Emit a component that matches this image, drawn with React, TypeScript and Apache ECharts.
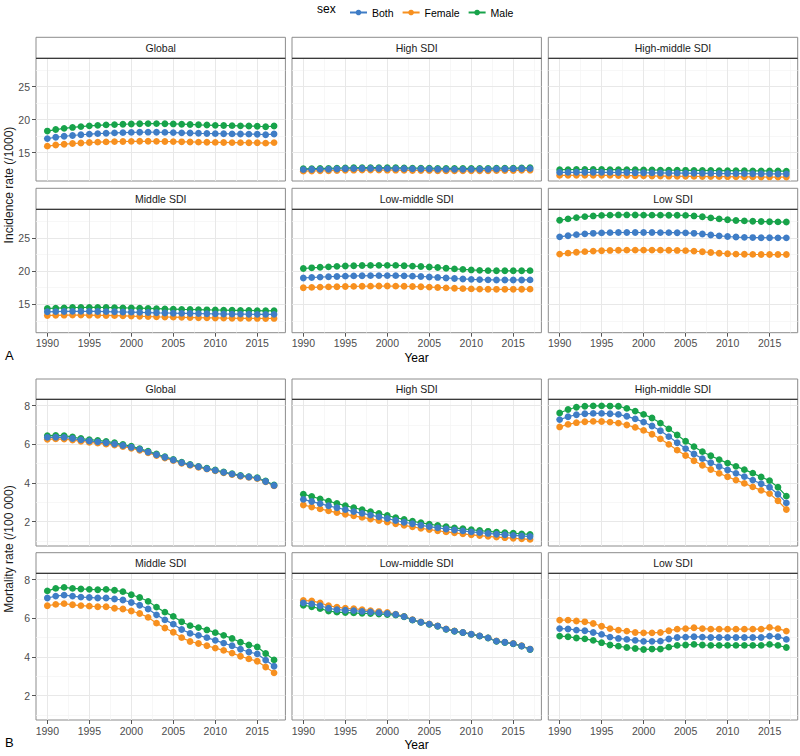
import React, { useEffect, useRef } from "react";
import * as echarts from "echarts";

const years = [1990, 1991, 1992, 1993, 1994, 1995, 1996, 1997, 1998, 1999, 2000, 2001, 2002, 2003, 2004, 2005, 2006, 2007, 2008, 2009, 2010, 2011, 2012, 2013, 2014, 2015, 2016, 2017];
const regions = ["Global", "High SDI", "High-middle SDI", "Middle SDI", "Low-middle SDI", "Low SDI"];
const sexes = ["Both", "Female", "Male"];

// Incidence rate (/1000)
const incGlobalMale = [18.27, 18.5, 18.68, 18.82, 18.95, 19.06, 19.14, 19.2, 19.25, 19.3, 19.34, 19.38, 19.4, 19.4, 19.38, 19.35, 19.31, 19.27, 19.22, 19.18, 19.14, 19.11, 19.09, 19.06, 19.03, 19.0, 18.92, 19.03];
const incGlobalBoth = [17.13, 17.33, 17.48, 17.6, 17.71, 17.8, 17.88, 17.94, 17.99, 18.03, 18.07, 18.09, 18.1, 18.09, 18.07, 18.04, 18.0, 17.97, 17.93, 17.9, 17.88, 17.86, 17.84, 17.82, 17.8, 17.79, 17.72, 17.82];
const incGlobalFemale = [15.98, 16.15, 16.28, 16.38, 16.46, 16.53, 16.59, 16.63, 16.67, 16.69, 16.71, 16.72, 16.72, 16.71, 16.69, 16.67, 16.64, 16.62, 16.59, 16.57, 16.55, 16.54, 16.52, 16.51, 16.5, 16.49, 16.44, 16.52];

const incHighMale = [12.55, 12.58, 12.6, 12.62, 12.65, 12.68, 12.7, 12.72, 12.72, 12.72, 12.7, 12.7, 12.68, 12.66, 12.65, 12.64, 12.62, 12.6, 12.6, 12.6, 12.6, 12.62, 12.62, 12.64, 12.65, 12.66, 12.68, 12.7];
const incHighBoth = [12.42, 12.45, 12.47, 12.49, 12.52, 12.55, 12.57, 12.59, 12.59, 12.59, 12.57, 12.57, 12.55, 12.53, 12.52, 12.51, 12.49, 12.47, 12.47, 12.47, 12.47, 12.49, 12.49, 12.51, 12.52, 12.53, 12.55, 12.57];
const incHighFemale = [12.19, 12.22, 12.24, 12.26, 12.29, 12.32, 12.34, 12.36, 12.36, 12.36, 12.34, 12.34, 12.32, 12.3, 12.29, 12.28, 12.26, 12.24, 12.24, 12.24, 12.24, 12.26, 12.26, 12.28, 12.29, 12.3, 12.32, 12.34];

const incHMMale = [12.42, 12.43, 12.44, 12.44, 12.44, 12.44, 12.43, 12.42, 12.41, 12.4, 12.38, 12.37, 12.35, 12.34, 12.33, 12.32, 12.31, 12.3, 12.29, 12.28, 12.27, 12.26, 12.25, 12.24, 12.23, 12.22, 12.21, 12.2];
const incHMBoth = [12.0, 12.01, 12.02, 12.02, 12.02, 12.01, 12.0, 11.99, 11.98, 11.96, 11.95, 11.93, 11.92, 11.9, 11.89, 11.88, 11.87, 11.86, 11.85, 11.84, 11.83, 11.82, 11.81, 11.8, 11.79, 11.78, 11.77, 11.77];
const incHMFemale = [11.55, 11.56, 11.57, 11.57, 11.57, 11.56, 11.55, 11.54, 11.52, 11.5, 11.48, 11.46, 11.45, 11.43, 11.42, 11.41, 11.4, 11.38, 11.37, 11.36, 11.35, 11.34, 11.33, 11.32, 11.31, 11.3, 11.3, 11.3];

const incMidMale = [14.35, 14.4, 14.45, 14.5, 14.5, 14.52, 14.52, 14.5, 14.48, 14.45, 14.42, 14.4, 14.36, 14.32, 14.28, 14.25, 14.22, 14.2, 14.18, 14.15, 14.12, 14.1, 14.08, 14.06, 14.05, 14.03, 14.0, 14.02];
const incMidBoth = [13.85, 13.88, 13.9, 13.92, 13.92, 13.92, 13.9, 13.88, 13.85, 13.82, 13.8, 13.77, 13.74, 13.7, 13.67, 13.64, 13.62, 13.6, 13.58, 13.56, 13.54, 13.52, 13.5, 13.5, 13.48, 13.47, 13.46, 13.47];
const incMidFemale = [13.3, 13.32, 13.34, 13.35, 13.35, 13.34, 13.32, 13.3, 13.27, 13.24, 13.2, 13.17, 13.14, 13.1, 13.07, 13.04, 13.01, 12.98, 12.96, 12.94, 12.92, 12.9, 12.88, 12.87, 12.86, 12.85, 12.84, 12.85];

const incLMMale = [20.38, 20.48, 20.56, 20.63, 20.7, 20.75, 20.79, 20.82, 20.84, 20.85, 20.85, 20.84, 20.8, 20.74, 20.68, 20.6, 20.52, 20.42, 20.32, 20.24, 20.16, 20.1, 20.06, 20.04, 20.03, 20.03, 20.04, 20.05];
const incLMBoth = [18.95, 19.02, 19.08, 19.13, 19.18, 19.22, 19.26, 19.28, 19.3, 19.31, 19.31, 19.3, 19.27, 19.22, 19.17, 19.1, 19.03, 18.95, 18.87, 18.8, 18.74, 18.7, 18.67, 18.65, 18.64, 18.64, 18.65, 18.66];
const incLMFemale = [17.48, 17.53, 17.57, 17.6, 17.63, 17.66, 17.68, 17.7, 17.72, 17.73, 17.73, 17.72, 17.7, 17.66, 17.62, 17.57, 17.52, 17.46, 17.4, 17.34, 17.3, 17.27, 17.25, 17.24, 17.24, 17.24, 17.25, 17.26];

const incLowMale = [27.65, 27.85, 28.05, 28.2, 28.3, 28.38, 28.42, 28.45, 28.45, 28.44, 28.43, 28.42, 28.42, 28.41, 28.4, 28.38, 28.3, 28.18, 28.0, 27.85, 27.72, 27.62, 27.55, 27.5, 27.46, 27.43, 27.4, 27.38];
const incLowBoth = [25.15, 25.32, 25.48, 25.6, 25.68, 25.74, 25.78, 25.8, 25.8, 25.8, 25.8, 25.8, 25.79, 25.78, 25.77, 25.75, 25.68, 25.58, 25.42, 25.3, 25.2, 25.12, 25.07, 25.04, 25.02, 25.01, 25.0, 25.0];
const incLowFemale = [22.55, 22.7, 22.82, 22.92, 23.0, 23.06, 23.1, 23.12, 23.14, 23.15, 23.15, 23.15, 23.14, 23.12, 23.1, 23.07, 23.0, 22.9, 22.78, 22.68, 22.6, 22.55, 22.52, 22.5, 22.49, 22.48, 22.48, 22.48];

// Mortality rate (/100 000)
const morGlobalMale = [6.45, 6.46, 6.45, 6.38, 6.3, 6.24, 6.2, 6.15, 6.08, 5.99, 5.9, 5.78, 5.64, 5.5, 5.36, 5.22, 5.07, 4.96, 4.86, 4.76, 4.67, 4.57, 4.48, 4.39, 4.33, 4.27, 4.1, 3.9];
const morGlobalBoth = [6.36, 6.37, 6.36, 6.3, 6.23, 6.17, 6.13, 6.08, 6.02, 5.94, 5.85, 5.74, 5.6, 5.46, 5.33, 5.19, 5.05, 4.94, 4.84, 4.74, 4.65, 4.55, 4.46, 4.37, 4.31, 4.25, 4.08, 3.87];
const morGlobalFemale = [6.26, 6.28, 6.27, 6.22, 6.16, 6.1, 6.06, 6.01, 5.96, 5.88, 5.8, 5.69, 5.56, 5.42, 5.29, 5.16, 5.02, 4.91, 4.81, 4.72, 4.63, 4.53, 4.44, 4.35, 4.29, 4.23, 4.06, 3.85];

const morHighMale = [3.42, 3.3, 3.18, 3.06, 2.94, 2.83, 2.72, 2.62, 2.52, 2.42, 2.32, 2.21, 2.11, 2.02, 1.94, 1.87, 1.8, 1.74, 1.68, 1.63, 1.58, 1.54, 1.5, 1.46, 1.43, 1.4, 1.37, 1.34];
const morHighBoth = [3.15, 3.04, 2.93, 2.82, 2.72, 2.62, 2.52, 2.43, 2.34, 2.25, 2.16, 2.06, 1.97, 1.89, 1.81, 1.74, 1.68, 1.62, 1.57, 1.52, 1.47, 1.43, 1.39, 1.35, 1.32, 1.29, 1.26, 1.23];
const morHighFemale = [2.86, 2.76, 2.66, 2.56, 2.47, 2.38, 2.3, 2.22, 2.14, 2.06, 1.98, 1.89, 1.81, 1.73, 1.66, 1.59, 1.53, 1.47, 1.42, 1.37, 1.32, 1.28, 1.24, 1.2, 1.17, 1.14, 1.11, 1.08];

const morHMMale = [7.62, 7.8, 7.92, 7.97, 7.99, 7.99, 7.98, 7.97, 7.86, 7.72, 7.55, 7.36, 7.1, 6.8, 6.48, 6.16, 5.88, 5.62, 5.41, 5.21, 5.03, 4.86, 4.69, 4.51, 4.31, 4.12, 3.78, 3.32];
const morHMBoth = [7.28, 7.43, 7.53, 7.58, 7.6, 7.6, 7.58, 7.55, 7.45, 7.32, 7.15, 6.95, 6.7, 6.4, 6.08, 5.78, 5.5, 5.26, 5.05, 4.85, 4.67, 4.5, 4.33, 4.15, 3.96, 3.78, 3.42, 2.97];
const morHMFemale = [6.9, 7.03, 7.12, 7.17, 7.19, 7.18, 7.15, 7.1, 7.0, 6.88, 6.72, 6.52, 6.28, 6.0, 5.7, 5.42, 5.15, 4.92, 4.7, 4.5, 4.32, 4.15, 3.98, 3.8, 3.62, 3.45, 3.08, 2.63];

const morMidMale = [7.42, 7.55, 7.6, 7.55, 7.52, 7.5, 7.48, 7.5, 7.45, 7.38, 7.22, 7.08, 6.88, 6.58, 6.32, 6.1, 5.82, 5.62, 5.52, 5.4, 5.26, 5.12, 4.96, 4.76, 4.62, 4.52, 4.18, 3.85];
const morMidBoth = [7.05, 7.15, 7.2, 7.15, 7.1, 7.08, 7.05, 7.05, 7.0, 6.95, 6.82, 6.68, 6.48, 6.18, 5.92, 5.7, 5.42, 5.22, 5.12, 5.0, 4.86, 4.72, 4.58, 4.4, 4.26, 4.16, 3.84, 3.52];
const morMidFemale = [6.65, 6.72, 6.76, 6.7, 6.66, 6.63, 6.6, 6.6, 6.52, 6.48, 6.38, 6.25, 6.05, 5.75, 5.5, 5.28, 5.0, 4.8, 4.7, 4.58, 4.46, 4.34, 4.2, 4.04, 3.9, 3.78, 3.48, 3.18];

const morLMMale = [6.68, 6.6, 6.5, 6.38, 6.32, 6.3, 6.28, 6.26, 6.25, 6.22, 6.2, 6.17, 6.08, 5.91, 5.79, 5.69, 5.59, 5.43, 5.33, 5.26, 5.17, 5.08, 4.98, 4.81, 4.75, 4.68, 4.56, 4.39];
const morLMBoth = [6.8, 6.75, 6.65, 6.52, 6.45, 6.42, 6.4, 6.36, 6.33, 6.29, 6.25, 6.2, 6.09, 5.92, 5.8, 5.7, 5.6, 5.44, 5.34, 5.27, 5.18, 5.09, 4.99, 4.82, 4.76, 4.69, 4.57, 4.4];
const morLMFemale = [6.92, 6.9, 6.8, 6.65, 6.58, 6.52, 6.5, 6.45, 6.4, 6.35, 6.3, 6.22, 6.1, 5.93, 5.81, 5.71, 5.61, 5.45, 5.35, 5.27, 5.18, 5.09, 4.99, 4.83, 4.77, 4.7, 4.58, 4.41];

const morLowMale = [5.08, 5.05, 4.98, 4.94, 4.86, 4.74, 4.62, 4.56, 4.49, 4.44, 4.39, 4.41, 4.41, 4.51, 4.6, 4.62, 4.65, 4.62, 4.6, 4.6, 4.6, 4.6, 4.6, 4.6, 4.6, 4.65, 4.6, 4.49];
const morLowBoth = [5.47, 5.45, 5.39, 5.36, 5.27, 5.17, 5.03, 4.96, 4.91, 4.86, 4.81, 4.81, 4.82, 4.93, 5.01, 5.03, 5.05, 5.03, 5.01, 5.01, 5.01, 5.01, 5.01, 5.01, 5.01, 5.08, 5.05, 4.91];
const morLowFemale = [5.91, 5.91, 5.86, 5.82, 5.73, 5.59, 5.47, 5.39, 5.34, 5.27, 5.25, 5.25, 5.27, 5.36, 5.44, 5.47, 5.51, 5.47, 5.44, 5.44, 5.44, 5.44, 5.44, 5.44, 5.44, 5.53, 5.47, 5.34];

const incidence = [
  [incGlobalBoth, incGlobalFemale, incGlobalMale],
  [incHighBoth, incHighFemale, incHighMale],
  [incHMBoth, incHMFemale, incHMMale],
  [incMidBoth, incMidFemale, incMidMale],
  [incLMBoth, incLMFemale, incLMMale],
  [incLowBoth, incLowFemale, incLowMale],
];
const mortality = [
  [morGlobalBoth, morGlobalFemale, morGlobalMale],
  [morHighBoth, morHighFemale, morHighMale],
  [morHMBoth, morHMFemale, morHMMale],
  [morMidBoth, morMidFemale, morMidMale],
  [morLMBoth, morLMFemale, morLMMale],
  [morLowBoth, morLowFemale, morLowMale],
];

const xMajor = [1990, 1995, 2000, 2005, 2010, 2015];
const xMinor = [1992.5, 1997.5, 2002.5, 2007.5, 2012.5, 2017.5];
const incMajor = [15, 20, 25];
const incMinor = [12.5, 17.5, 22.5, 27.5];
const morMajor = [2, 4, 6, 8];
const morMinor = [1, 3, 5, 7];

const COLORS: Record<string, string> = { Both: "#3F7DC6", Female: "#F7901F", Male: "#17A34A" };
const FONT = "'Liberation Sans', Arial, Helvetica, sans-serif";

export default function App() {
  const ref = useRef<HTMLDivElement>(null);
  useEffect(() => {
    if (!ref.current) return;
    const chart = echarts.init(ref.current, null, { renderer: "svg" });

    const colLeft = [36, 292, 548.3];
    const colW = 249.4;
    const rows = [
      { stripTop: 37.3, top: 58.3, bottom: 181 },
      { stripTop: 188.3, top: 209.3, bottom: 332.7 },
      { stripTop: 379, top: 399.3, bottom: 546 },
      { stripTop: 552.7, top: 573.3, bottom: 720 },
    ];

    const grids: any[] = [];
    const xAxes: any[] = [];
    const yAxes: any[] = [];
    const series: any[] = [];
    const graphics: any[] = [];

    for (let sec = 0; sec < 2; sec++) {
      const dataSet = sec === 0 ? incidence : mortality;
      const yMin = sec === 0 ? 10.7 : 0.74;
      const yMax = sec === 0 ? 29.3 : 8.33;
      const yMajor = sec === 0 ? incMajor : morMajor;
      const yMinor = sec === 0 ? incMinor : morMinor;
      for (let p = 0; p < 6; p++) {
        const r = sec * 2 + Math.floor(p / 3);
        const c = p % 3;
        const row = rows[r];
        const idx = grids.length;
        const left = colLeft[c];
        grids.push({
          left,
          top: row.top,
          width: colW,
          height: row.bottom - row.top,
          show: true,
          borderColor: "#8c8c8c",
          borderWidth: 1,
          backgroundColor: "#ffffff",
          containLabel: false,
        });
        const showX = r % 2 === 1;
        const showY = c === 0;
        xAxes.push({
          type: "value",
          gridIndex: idx,
          min: 1988.65,
          max: 2018.35,
          axisLine: { show: false },
          splitLine: { show: false },
          axisTick: { show: showX, customValues: xMajor, length: 4, lineStyle: { color: "#555", width: 1 } },
          axisLabel: {
            show: showX,
            customValues: xMajor,
            formatter: (v: number) => String(Math.round(v)),
            margin: 5,
            color: "#4d4d4d",
            fontSize: 10.5,
            fontFamily: FONT,
          },
        });
        yAxes.push({
          type: "value",
          gridIndex: idx,
          min: yMin,
          max: yMax,
          axisLine: { show: false },
          splitLine: { show: false },
          axisTick: { show: showY, customValues: yMajor, length: 4, lineStyle: { color: "#555", width: 1 } },
          axisLabel: {
            show: showY,
            customValues: yMajor,
            formatter: (v: number) => String(Math.round(v)),
            margin: 6,
            color: "#4d4d4d",
            fontSize: 10.5,
            fontFamily: FONT,
          },
        });
        const minorStyle = { color: "#f3f3f3", width: 0.7, type: "solid" };
        const majorStyle = { color: "#e8e8e8", width: 1, type: "solid" };
        series.push({
          type: "line",
          name: "grid" + idx,
          xAxisIndex: idx,
          yAxisIndex: idx,
          data: [],
          silent: true,
          z: 1,
          markLine: {
            silent: true,
            z: 1,
            symbol: "none",
            animation: false,
            label: { show: false },
            emphasis: { disabled: true },
            data: [
              ...xMinor.map((v) => ({ xAxis: v, lineStyle: minorStyle })),
              ...yMinor.map((v) => ({ yAxis: v, lineStyle: minorStyle })),
              ...xMajor.map((v) => ({ xAxis: v, lineStyle: majorStyle })),
              ...yMajor.map((v) => ({ yAxis: v, lineStyle: majorStyle })),
            ],
          },
        });
        // drawing order: Female, Male, Both (Both on top)
        const order = [1, 2, 0];
        order.forEach((s) => {
          const name = sexes[s];
          const vals = dataSet[p][s];
          series.push({
            type: "line",
            name,
            xAxisIndex: idx,
            yAxisIndex: idx,
            data: years.map((y, j) => [y, vals[j]]),
            symbol: "circle",
            symbolSize: 6.8,
            showSymbol: true,
            z: 10,
            lineStyle: { color: COLORS[name], width: 1.2 },
            itemStyle: { color: COLORS[name], borderWidth: 0, borderColor: COLORS[name] },
            emphasis: { disabled: true },
          });
        });
        // strip
        graphics.push({
          type: "rect",
          shape: { x: left, y: row.stripTop, width: colW, height: row.top - row.stripTop },
          style: { fill: "#ffffff", stroke: "#8c8c8c", lineWidth: 1 },
          z: 10,
        });
        graphics.push({
          type: "line",
          shape: { x1: left, y1: row.top, x2: left + colW, y2: row.top },
          style: { stroke: "#3a3a3a", lineWidth: 1.2 },
          z: 11,
        });
        graphics.push({
          type: "text",
          x: left + colW / 2,
          y: (row.stripTop + row.top) / 2,
          style: {
            text: regions[p],
            fill: "#1a1a1a",
            font: `10.5px ${FONT}`,
            textAlign: "center",
            textVerticalAlign: "middle",
          },
          z: 12,
        });
      }
    }

    // axis titles and panel tags
    const titleFont = `12px ${FONT}`;
    graphics.push({
      type: "text",
      x: 9,
      y: 185,
      rotation: Math.PI / 2,
      style: { text: "Incidence rate (/1000)", fill: "#1a1a1a", font: titleFont, textAlign: "center", textVerticalAlign: "middle" },
    });
    graphics.push({
      type: "text",
      x: 9,
      y: 549,
      rotation: Math.PI / 2,
      style: { text: "Mortality rate (/100 000)", fill: "#1a1a1a", font: titleFont, textAlign: "center", textVerticalAlign: "middle" },
    });
    graphics.push({
      type: "text",
      x: 416.5,
      y: 358,
      style: { text: "Year", fill: "#000", font: titleFont, textAlign: "center", textVerticalAlign: "middle" },
    });
    graphics.push({
      type: "text",
      x: 416.5,
      y: 745,
      style: { text: "Year", fill: "#000", font: titleFont, textAlign: "center", textVerticalAlign: "middle" },
    });
    graphics.push({
      type: "text",
      x: 5,
      y: 355,
      style: { text: "A", fill: "#000", font: `13px ${FONT}`, textAlign: "left", textVerticalAlign: "middle" },
    });
    graphics.push({
      type: "text",
      x: 5,
      y: 742.5,
      style: { text: "B", fill: "#000", font: `13px ${FONT}`, textAlign: "left", textVerticalAlign: "middle" },
    });
    graphics.push({
      type: "text",
      x: 317,
      y: 8.5,
      style: { text: "sex", fill: "#000", font: `12px ${FONT}`, textAlign: "left", textVerticalAlign: "middle" },
    });

    chart.setOption({
      animation: false,
      backgroundColor: "#ffffff",
      textStyle: { fontFamily: FONT },
      legend: {
        data: sexes,
        left: 344,
        top: 2,
        itemWidth: 17,
        itemHeight: 7,
        itemGap: 8,
        selectedMode: false,
        textStyle: { color: "#000", fontSize: 10.5, fontFamily: FONT },
      },
      grid: grids,
      xAxis: xAxes,
      yAxis: yAxes,
      series,
      graphic: graphics,
    });
    return () => chart.dispose();
  }, []);
  return <div ref={ref} style={{ position: "fixed", left: 0, top: 0, width: 800, height: 756 }} />;
}
